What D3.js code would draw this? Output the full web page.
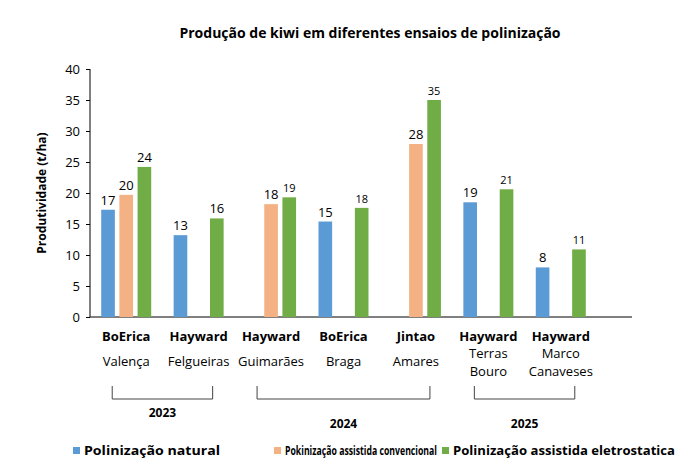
<!DOCTYPE html>
<html><head><meta charset="utf-8">
<script src="https://cdn.jsdelivr.net/npm/d3@7"></script>
<style>body{margin:0;background:#fff}text{font-family:"Open Sans",sans-serif;fill:#000}</style>
</head><body><svg width="690" height="466"></svg>
<script>
// data
const cultivars = ["BoErica", "Hayward", "Hayward", "BoErica", "Jintao", "Hayward", "Hayward"];
const places = [["Valença"], ["Felgueiras"], ["Guimarães"], ["Braga"], ["Amares"], ["Terras", "Bouro"], ["Marco", "Canaveses"]];
const natural = [17.3, 13.2, null, 15.4, null, 18.5, 8.0];
const convencional = [19.7, null, 18.2, null, 27.9, null, null];
const eletro = [24.2, 15.9, 19.3, 17.6, 35.0, 20.6, 10.9];
const labNatural = ["17", "13", null, "15", null, "19", "8"];
const labConv = ["20", null, "18", null, "28", null, null];
const labEletro = ["24", "16", "19", "18", "35", "21", "11"];
const years = [{ year: "2023", from: 0, to: 1 }, { year: "2024", from: 2, to: 4 }, { year: "2025", from: 5, to: 6 }];
const seriesNames = ["Polinização natural", "Pokinização assistida convencional", "Polinização assistida eletrostatica"];
const colors = ["#5b9bd5", "#f4b183", "#70ad47"];
const yTicks = [0, 5, 10, 15, 20, 25, 30, 35, 40];

const svg = d3.select("svg");
const idx = d3.range(cultivars.length);

const x = d3.scaleBand().domain(idx).range([90, 597]);
const xs = d3.scaleBand().domain([0, 1, 2]).range([-25, 25]).paddingInner(0.25);
const y = d3.scaleLinear().domain([0, 40]).range([317, 69]);

// title
svg.append("text").attr("x", 370).attr("y", 38).attr("text-anchor", "middle")
   .style("font-size", "14px").style("font-weight", "bold")
   .text("Produção de kiwi em diferentes ensaios de polinização");

// y axis
const ya = svg.append("g").attr("transform", "translate(90,0)")
   .call(d3.axisLeft(y).tickValues(yTicks).tickSize(4).tickPadding(6));
ya.selectAll("text").style("font-size", "13px").style("font-family", "Open Sans");
ya.selectAll("line,path").attr("stroke", "#000");
ya.select(".domain").attr("d", "M0,317V69");

svg.append("line").attr("x1", 90).attr("x2", 632).attr("y1", 317).attr("y2", 317).attr("stroke", "#000");

svg.append("text").attr("transform", "translate(46,193) rotate(-90)").attr("text-anchor", "middle")
   .style("font-size", "12px").style("font-weight", "bold").text("Produtividade (t/ha)");

// bars
const series = [natural, convencional, eletro];
const labels = [labNatural, labConv, labEletro];
series.forEach((vals, s) => {
  const d = idx.filter(i => vals[i] != null);
  svg.selectAll(".b" + s).data(d).enter().append("rect")
     .attr("x", i => x(i) + x.bandwidth() / 2 + xs(s))
     .attr("y", i => y(vals[i]))
     .attr("width", xs.bandwidth())
     .attr("height", i => y(0) - y(vals[i]))
     .attr("fill", colors[s]);
  svg.selectAll(".l" + s).data(d).enter().append("text")
     .attr("x", i => x(i) + x.bandwidth() / 2 + xs(s) + xs.bandwidth() / 2)
     .attr("y", i => y(vals[i]) - 5)
     .attr("text-anchor", "middle")
     .style("font-size", i => (s === 2 && i !== 1 && i !== 0) ? "11px" : "13px")
     .text(i => labels[s][i]);
});

// category labels
svg.selectAll(".cv").data(idx).enter().append("text")
   .attr("x", i => x(i) + x.bandwidth() / 2).attr("y", 341)
   .attr("text-anchor", "middle").style("font-size", "13px").style("font-weight", "bold")
   .text(i => cultivars[i]);
idx.forEach(i => {
  const lines = places[i];
  lines.forEach((t, k) => {
    svg.append("text").attr("x", x(i) + x.bandwidth() / 2)
       .attr("y", lines.length === 1 ? 366 : 358 + k * 18)
       .attr("text-anchor", "middle").style("font-size", "13px").text(t);
  });
});

// year brackets
years.forEach((g, k) => {
  const x1 = x(g.from) + x.bandwidth() / 2 - 14, x2 = x(g.to) + x.bandwidth() / 2 + 14;
  svg.append("path").attr("d", `M${x1},386V399H${x2}V386`).attr("fill", "none").attr("stroke", "#444");
  svg.append("text").attr("x", (x1 + x2) / 2).attr("y", k === 0 ? 417 : 428)
     .attr("text-anchor", "middle").style("font-size", "12px").style("font-weight", "bold").text(g.year);
});

// legend
const lx = [73, 274, 442];
const lw = [136, 152, 222];
seriesNames.forEach((n, s) => {
  svg.append("rect").attr("x", lx[s]).attr("y", 447).attr("width", 7).attr("height", 7).attr("fill", colors[s]);
  svg.append("text").attr("x", lx[s] + 11).attr("y", 455).style("font-size", "12px").style("font-weight", "bold")
     .attr("textLength", lw[s]).attr("lengthAdjust", "spacingAndGlyphs").text(n);
});
</script></body></html>
